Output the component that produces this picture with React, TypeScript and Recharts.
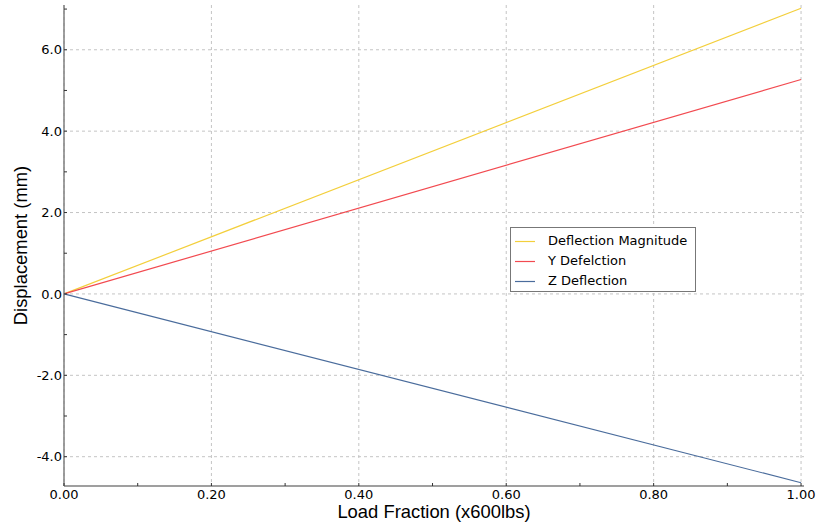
import React from 'react';
import { LineChart, Line, XAxis, YAxis, CartesianGrid, Legend } from 'recharts';

const loadFraction = [0, 1.0];
const deflectionMagnitude = [0, 7.02];
const yDeflection = [0, 5.27];
const zDeflection = [0, -4.64];

const seriesNames = ['Deflection Magnitude', 'Y Defelction', 'Z Deflection'];
const seriesColors = ['#f3cf3c', '#f24a50', '#4a6c9c'];

const xMajorTicks = [0, 0.2, 0.4, 0.6, 0.8, 1.0];
const xAllTicks = [0, 0.1, 0.2, 0.3, 0.4, 0.5, 0.6, 0.7, 0.8, 0.9, 1.0];
const yMajorTicks = [-4, -2, 0, 2, 4, 6];
const yAllTicks = [-4, -3, -2, -1, 0, 1, 2, 3, 4, 5, 6, 7];

const data = loadFraction.map((x, i) => ({
  x,
  mag: deflectionMagnitude[i],
  y: yDeflection[i],
  z: zDeflection[i],
}));

const FONT = 'DejaVu Sans, Verdana, sans-serif';
const TITLE_FONT = 'Liberation Sans, Arial, sans-serif';
const AXIS = '#7f7f7f';
const TICKLEN = 3;

const isMajor = (arr: number[], v: number) => arr.some((m) => Math.abs(m - v) < 1e-9);

const BottomTick = (props: any) => {
  const { x, y, payload } = props;
  const v = payload.value;
  return (
    <g>
      <line x1={x} x2={x} y1={y} y2={y - TICKLEN} stroke="#333" strokeWidth={1} />
      {isMajor(xMajorTicks, v) && (
        <text x={x} y={y + 13} textAnchor="middle" fontFamily={FONT} fontSize={13} fill="#000">
          {v.toFixed(2)}
        </text>
      )}
    </g>
  );
};

const TopTick = (props: any) => {
  const { x, y } = props;
  return <line x1={x} x2={x} y1={y} y2={y + TICKLEN} stroke="#333" strokeWidth={1} />;
};

const LeftTick = (props: any) => {
  const { x, y, payload } = props;
  const v = payload.value;
  return (
    <g>
      <line x1={x} x2={x + TICKLEN} y1={y} y2={y} stroke="#333" strokeWidth={1} />
      {isMajor(yMajorTicks, v) && (
        <text x={x - 2} y={y + 4.7} textAnchor="end" fontFamily={FONT} fontSize={13} fill="#000">
          {v.toFixed(1)}
        </text>
      )}
    </g>
  );
};

const RightTick = (props: any) => {
  const { x, y } = props;
  return <line x1={x} x2={x - TICKLEN} y1={y} y2={y} stroke="#333" strokeWidth={1} />;
};

const LegendBox = (props: any) => {
  const payload = props.payload || [];
  return (
    <div
      style={{
        boxSizing: 'border-box',
        border: '1px solid #777',
        background: '#fff',
        padding: '3px 4px 0px 4px',
        fontFamily: FONT,
        fontSize: 13,
        width: 186,
        height: 65,
      }}
    >
      {payload.map((p: any) => {
        const idx = seriesNames.indexOf(p.value);
        const col = idx >= 0 ? seriesColors[idx] : p.color;
        return (
          <div key={p.value} style={{ position: 'relative', height: 20 }}>
            <svg width={20} height={3} style={{ position: 'absolute', left: 0, top: 9 }}>
              <line x1={0} x2={20} y1={1.5} y2={1.5} stroke={col} strokeWidth={1.2} />
            </svg>
            <span style={{ position: 'absolute', left: 33, top: 0, color: '#000', lineHeight: '20px', whiteSpace: 'nowrap' }}>{p.value}</span>
          </div>
        );
      })}
    </div>
  );
};

export default function App() {
  return (
    <div style={{ position: 'absolute', left: 0, top: 0, background: '#fff' }}>
      <LineChart width={817} height={525} data={data} margin={{ top: 5, right: 13, bottom: 0, left: 0 }}>
        <CartesianGrid
          stroke="#c4c4c4"
          strokeDasharray="3 3"
          verticalValues={xMajorTicks}
          horizontalValues={yMajorTicks}
        />
        <XAxis
          dataKey="x"
          type="number"
          domain={[0, 1.004]}
          ticks={xAllTicks}
          interval={0}
          height={39}
          tickSize={0}
          tickMargin={0}
          tick={<BottomTick />}
          axisLine={{ stroke: AXIS, strokeWidth: 1.5 }}
          label={{ value: 'Load Fraction (x600lbs)', position: 'insideBottom', offset: 7, fontFamily: TITLE_FONT, fontSize: 18.4, fill: '#000' }}
        />
        <XAxis
          xAxisId="top"
          orientation="top"
          type="number"
          domain={[0, 1.004]}
          ticks={xAllTicks}
          interval={0}
          height={0}
          tickSize={0}
          tickMargin={0}
          tick={<TopTick />}
          axisLine={{ stroke: AXIS, strokeWidth: 1.5 }}
        />
        <YAxis
          type="number"
          domain={[-4.72, 7.1]}
          ticks={yAllTicks}
          interval={0}
          width={64}
          tickSize={0}
          tickMargin={0}
          tick={<LeftTick />}
          axisLine={{ stroke: AXIS, strokeWidth: 1.5 }}
          label={{ value: 'Displacement (mm)', angle: -90, position: 'insideLeft', offset: 20, fontFamily: TITLE_FONT, fontSize: 18.4, fill: '#000', style: { textAnchor: 'middle' } }}
        />
        <YAxis
          yAxisId="right"
          orientation="right"
          type="number"
          domain={[-4.72, 7.1]}
          ticks={yAllTicks}
          interval={0}
          width={0}
          tickSize={0}
          tickMargin={0}
          tick={<RightTick />}
          axisLine={{ stroke: AXIS, strokeWidth: 1.5 }}
        />
        <Legend
          layout="horizontal"
          verticalAlign="middle"
          align="center"
          content={<LegendBox />}
          wrapperStyle={{ position: 'absolute', left: 510, top: 227, width: 'auto', height: 'auto' }}
        />
        <Line type="linear" dataKey="mag" name={seriesNames[0]} stroke={seriesColors[0]} strokeWidth={1.2} dot={false} isAnimationActive={false} />
        <Line type="linear" dataKey="y" name={seriesNames[1]} stroke={seriesColors[1]} strokeWidth={1.2} dot={false} isAnimationActive={false} />
        <Line type="linear" dataKey="z" name={seriesNames[2]} stroke={seriesColors[2]} strokeWidth={1.2} dot={false} isAnimationActive={false} />
      </LineChart>
    </div>
  );
}
